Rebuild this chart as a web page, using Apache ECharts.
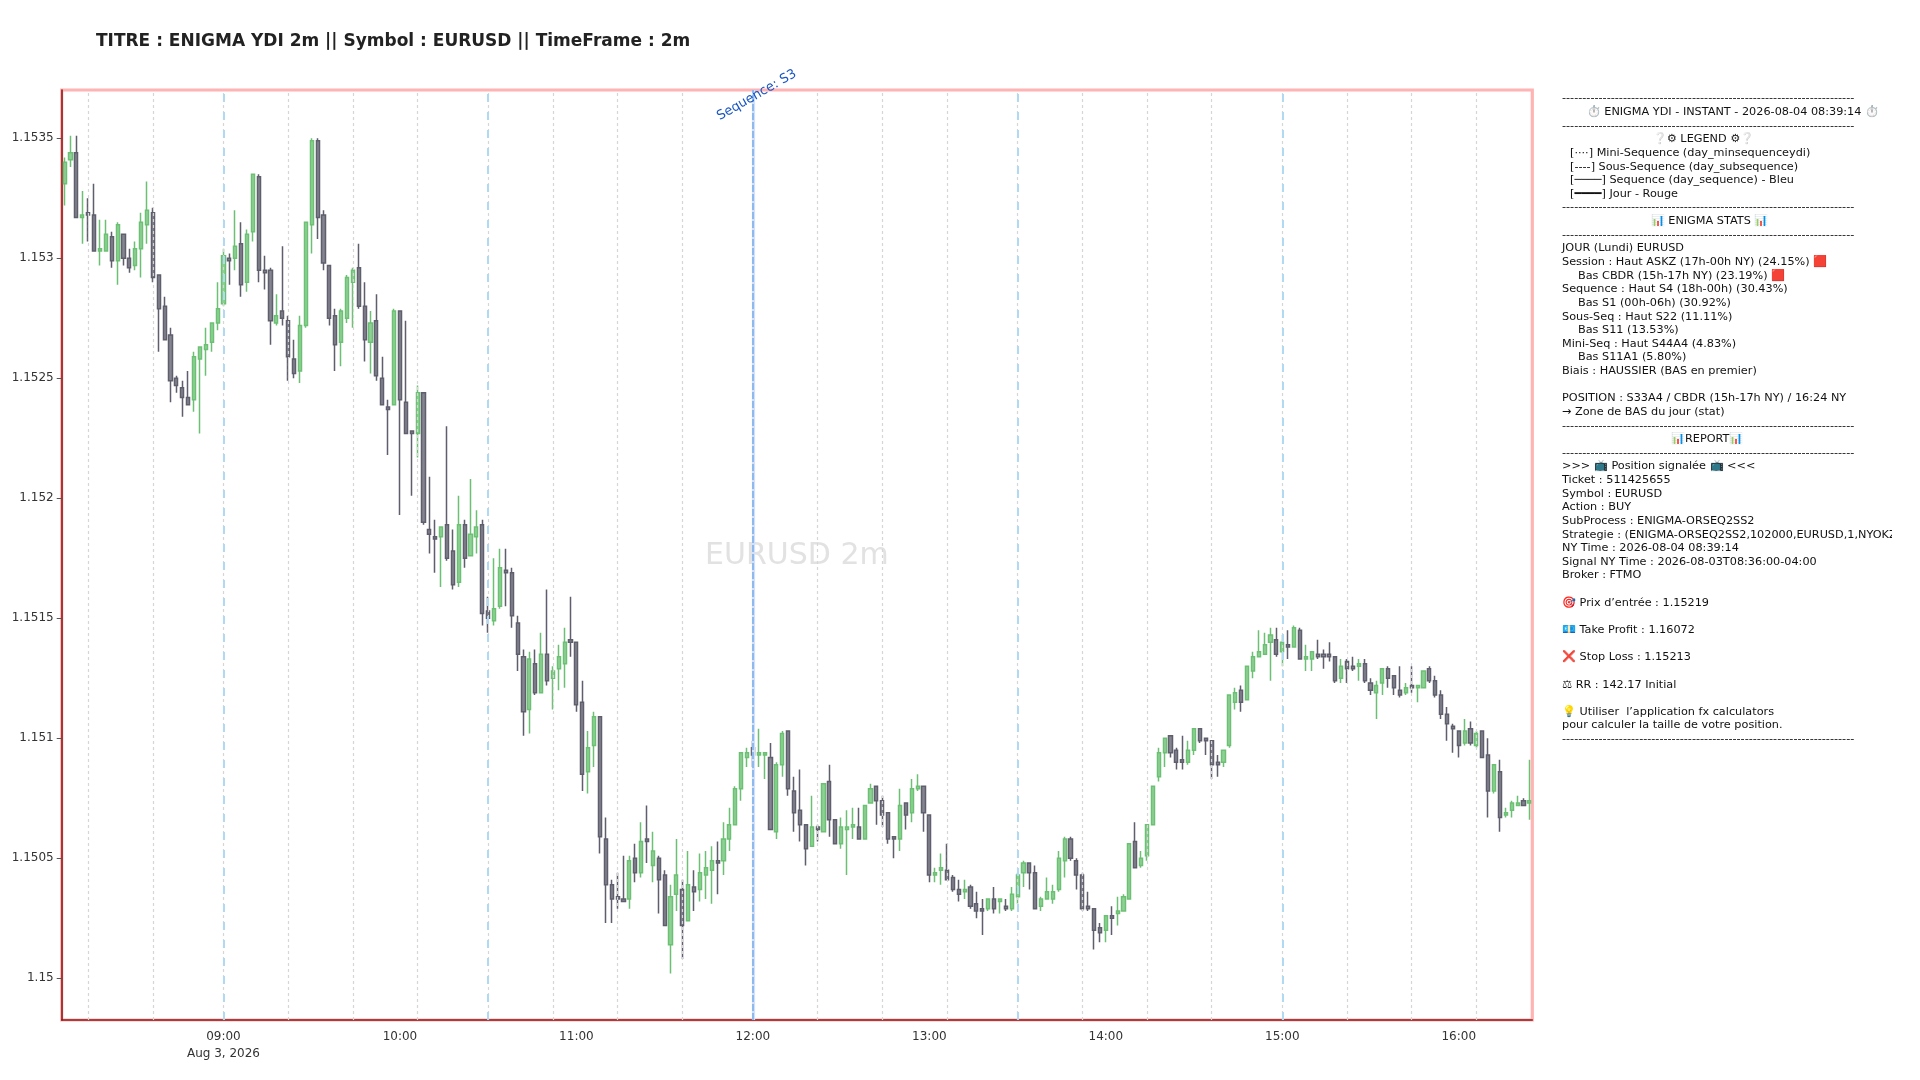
<!DOCTYPE html>
<html><head><meta charset="utf-8">
<style>html,body{margin:0;padding:0;background:#fff;overflow:hidden}#c{width:1892px;height:1080px}</style>
<script src="https://cdn.jsdelivr.net/npm/echarts@6/dist/echarts.min.js"></script>
</head><body><div id="c"></div>
<script>
const titleText = "TITRE : ENIGMA YDI 2m || Symbol : EURUSD || TimeFrame : 2m";
const watermarkText = "EURUSD 2m";
const priceBase = 1.15, pointSize = 0.00001;
const categories = ["08:06","08:08","08:10","08:12","08:14","08:16","08:18","08:20","08:22","08:24","08:26","08:28","08:30","08:32","08:34","08:36","08:38","08:40","08:42","08:44","08:46","08:48","08:50","08:52","08:54","08:56","08:58","09:00","09:02","09:04","09:06","09:08","09:10","09:12","09:14","09:16","09:18","09:20","09:22","09:24","09:26","09:28","09:30","09:32","09:34","09:36","09:38","09:40","09:42","09:44","09:46","09:48","09:50","09:52","09:54","09:56","09:58","10:00","10:02","10:04","10:06","10:08","10:10","10:12","10:14","10:16","10:18","10:20","10:22","10:24","10:26","10:28","10:30","10:32","10:34","10:36","10:38","10:40","10:42","10:44","10:46","10:48","10:50","10:52","10:54","10:56","10:58","11:00","11:02","11:04","11:06","11:08","11:10","11:12","11:14","11:16","11:18","11:20","11:22","11:24","11:26","11:28","11:30","11:32","11:34","11:36","11:38","11:40","11:42","11:44","11:46","11:48","11:50","11:52","11:54","11:56","11:58","12:00","12:02","12:04","12:06","12:08","12:10","12:12","12:14","12:16","12:18","12:20","12:22","12:24","12:26","12:28","12:30","12:32","12:34","12:36","12:38","12:40","12:42","12:44","12:46","12:48","12:50","12:52","12:54","12:56","12:58","13:00","13:02","13:04","13:06","13:08","13:10","13:12","13:14","13:16","13:18","13:20","13:22","13:24","13:26","13:28","13:30","13:32","13:34","13:36","13:38","13:40","13:42","13:44","13:46","13:48","13:50","13:52","13:54","13:56","13:58","14:00","14:02","14:04","14:06","14:08","14:10","14:12","14:14","14:16","14:18","14:20","14:22","14:24","14:26","14:28","14:30","14:32","14:34","14:36","14:38","14:40","14:42","14:44","14:46","14:48","14:50","14:52","14:54","14:56","14:58","15:00","15:02","15:04","15:06","15:08","15:10","15:12","15:14","15:16","15:18","15:20","15:22","15:24","15:26","15:28","15:30","15:32","15:34","15:36","15:38","15:40","15:42","15:44","15:46","15:48","15:50","15:52","15:54","15:56","15:58","16:00","16:02","16:04","16:06","16:08","16:10","16:12","16:14","16:16","16:18","16:20","16:22","16:24"];
const opens = [331,341,344,317,319,318,303,303,309,299,310,300,297,304,314,319,293,280,268,250,246,242,241,258,262,265,273,281,300,300,306,290,311,334,295,295,273,278,274,258,253,272,314,349,318,297,276,265,275,290,296,280,265,274,250,238,239,278,240,228,227,244,187,184,184,189,178,165,189,176,184,189,153,149,155,170,169,148,134,112,131,119,135,125,129,131,141,140,115,86,97,109,58,39,34,33,33,50,44,58,47,50,43,14,35,37,24,38,37,43,45,49,49,58,64,79,92,96,93,93,92,61,89,103,78,70,64,55,63,61,82,66,56,62,63,63,58,73,80,74,69,59,58,73,69,79,80,68,43,45,45,42,37,36,38,31,29,29,33,32,30,29,34,44,48,44,30,33,33,37,49,58,49,43,30,29,21,20,26,27,28,33,57,47,51,64,84,94,101,95,91,90,95,104,100,99,90,90,97,115,120,116,128,134,135,140,141,136,139,138,145,133,133,135,135,135,134,125,132,130,130,131,123,119,123,129,126,120,119,122,121,121,129,124,118,110,105,103,98,104,97,103,93,78,86,68,70,72,74,73];
const closes = [340,344,317,318,318,303,304,310,299,314,300,296,304,315,320,292,279,266,249,247,242,239,259,263,264,273,279,301,299,305,289,310,335,295,294,274,276,275,259,252,272,315,349,317,298,275,264,278,292,295,280,266,273,251,239,237,278,241,227,227,244,190,185,183,188,175,164,189,175,185,188,152,150,154,171,169,151,135,111,133,119,135,124,128,134,140,140,114,85,96,109,59,39,33,33,32,49,44,57,57,53,41,22,34,43,22,39,36,44,46,49,48,58,64,79,94,94,93,94,94,62,89,102,79,69,64,54,63,62,81,66,56,63,63,64,58,72,79,74,68,58,58,72,68,79,80,69,43,44,46,41,37,35,37,30,28,28,33,29,33,29,35,43,48,44,29,33,36,36,50,58,50,43,29,29,20,19,26,25,28,34,56,46,50,64,80,94,100,94,90,90,95,104,99,99,89,89,95,118,119,115,130,134,136,139,143,135,140,138,146,133,134,136,134,134,134,124,130,129,129,131,124,120,122,129,125,121,118,121,121,122,128,124,118,110,106,104,97,103,98,102,92,78,89,67,69,73,73,72,74];
const lows = [322,338,317,306,307,303,297,303,296,289,297,294,295,292,306,290,261,266,240,244,234,239,236,227,251,261,270,280,289,295,284,286,307,290,287,264,272,272,249,250,248,271,302,308,295,272,253,255,273,271,279,257,252,249,239,218,239,193,227,201,217,189,177,169,163,174,162,163,171,176,177,147,144,147,154,155,146,128,101,102,118,119,122,112,120,121,134,111,78,77,88,52,23,23,29,32,29,40,42,48,40,27,22,2,28,8,24,28,32,33,31,35,43,53,64,74,88,88,88,83,62,58,84,76,61,57,47,55,57,61,59,56,54,43,58,58,58,73,64,63,56,50,53,62,65,78,61,40,40,39,41,36,32,33,29,25,18,28,27,27,28,28,31,38,37,29,28,33,31,36,42,49,37,28,28,12,15,15,18,22,28,33,46,46,49,64,82,88,92,87,87,89,93,98,93,83,84,88,96,112,111,116,125,134,135,124,134,130,133,138,133,128,128,133,129,132,123,123,123,128,124,123,118,108,118,121,118,117,118,119,115,121,123,117,108,99,94,92,97,97,96,92,67,77,61,67,67,72,72,66];
const highs = [342,351,351,328,325,331,316,316,311,315,310,304,307,319,332,321,293,284,271,251,249,253,261,263,271,273,290,304,302,320,315,312,335,335,301,296,285,305,276,266,276,315,350,350,320,297,279,279,293,296,306,290,278,285,259,241,279,278,274,228,247,244,209,191,188,230,187,201,191,208,195,191,159,175,179,179,171,151,137,136,137,144,162,130,139,146,159,140,124,103,111,109,67,41,44,51,51,56,65,72,61,51,45,39,58,41,53,45,52,53,55,57,65,71,80,94,96,99,104,94,98,90,103,103,84,87,64,76,64,81,89,66,67,70,71,71,72,81,80,76,69,59,79,73,83,85,80,68,46,52,56,43,41,41,39,36,33,33,38,33,33,38,44,49,48,47,34,42,39,53,59,59,50,44,36,29,23,26,30,34,35,56,65,53,64,80,96,100,101,96,101,99,104,104,100,99,93,95,118,121,122,130,136,145,144,146,146,143,145,147,146,139,136,141,137,140,134,133,133,134,133,133,125,124,129,130,126,130,123,130,122,128,130,126,120,113,106,103,108,107,103,103,100,89,91,71,74,76,75,91];
const yTickValues = [1.15, 1.1505, 1.151, 1.1515, 1.152, 1.1525, 1.153, 1.1535];
const miniSeqTimes = ["08:14","08:36","09:00","09:22","09:44","10:06","10:30","10:52","11:14","11:36","12:00","12:22","12:44","13:06","13:30","13:52","14:14","14:36","15:00","15:22","15:44","16:06"];
const subSeqTimes = ["09:00","10:30","13:30","15:00"];
const seqTimes = ["12:00"];
const seqLabel = "Sequence: S3";
const dashRule = "-".repeat(72);
const panelRows = [
 dashRule,
 "⏱️ ENIGMA YDI - INSTANT - 2026-08-04 08:39:14 ⏱️",
 dashRule,
 "❔⚙ LEGEND ⚙❔",
 "[····] Mini-Sequence (day_minsequenceydi)",
 "[----] Sous-Sequence (day_subsequence)",
 "[────] Sequence (day_sequence) - Bleu",
 "[━━━━] Jour - Rouge",
 dashRule,
 "📊 ENIGMA STATS 📊",
 dashRule,
 "JOUR (Lundi) EURUSD",
 "Session : Haut ASKZ (17h-00h NY) (24.15%) 🟥",
 "Bas CBDR (15h-17h NY) (23.19%) 🟥",
 "Sequence : Haut S4 (18h-00h) (30.43%)",
 "Bas S1 (00h-06h) (30.92%)",
 "Sous-Seq : Haut S22 (11.11%)",
 "Bas S11 (13.53%)",
 "Mini-Seq : Haut S44A4 (4.83%)",
 "Bas S11A1 (5.80%)",
 "Biais : HAUSSIER (BAS en premier)",
 "",
 "POSITION : S33A4 / CBDR (15h-17h NY) / 16:24 NY",
 "→ Zone de BAS du jour (stat)",
 dashRule,
 "📊REPORT📊",
 dashRule,
 ">>> 📺 Position signalée 📺 <<<",
 "Ticket : 511425655",
 "Symbol : EURUSD",
 "Action : BUY",
 "SubProcess : ENIGMA-ORSEQ2SS2",
 "Strategie : (ENIGMA-ORSEQ2SS2,102000,EURUSD,1,NYOKZ,SL)",
 "NY Time : 2026-08-04 08:39:14",
 "Signal NY Time : 2026-08-03T08:36:00-04:00",
 "Broker : FTMO",
 "",
 "🎯 Prix d’entrée : 1.15219",
 "",
 "💶 Take Profit : 1.16072",
 "",
 "❌ Stop Loss : 1.15213",
 "",
 "⚖ RR : 142.17 Initial",
 "",
 "💡 Utiliser  l’application fx calculators",
 "pour calculer la taille de votre position.",
 dashRule
];
const panelLeft = 1562;
const panelRowStart = 97.3, panelRowStep = 13.63;
const panelIndents = {1:24.7, 3:90.7, 4:8, 5:8, 6:8, 7:8, 9:88.7, 13:16, 15:16, 17:16, 19:16, 25:109};

const price = p => +(priceBase + p * pointSize).toFixed(5);
const candleData = categories.map((_, i) => [price(opens[i]), price(closes[i]), price(lows[i]), price(highs[i])]);
const mini = miniSeqTimes.map(t => ({xAxis: t, lineStyle: {color: '#d6d6d6', width: 1.2, type: [3, 3]}}));
const sub = subSeqTimes.map(t => ({xAxis: t, lineStyle: {color: '#b2d9f2', width: 2, type: [8, 10]}}));
const seqBand = seqTimes.map(t => ({xAxis: t, lineStyle: {color: '#d3e0f9', width: 3.2, type: 'solid'}}));
const seq = seqTimes.map(t => ({xAxis: t, lineStyle: {color: '#86b5ec', width: 1.8, type: [7, 2]},
  label: {show: true, formatter: seqLabel, position: 'end', rotate: 30, distance: 0, align: 'center', verticalAlign: 'middle', offset: [0.8, 6.4],
          color: '#1a56c4', fontSize: 13, fontFamily: 'DejaVu Sans'}}));

const panelText = panelRows.map((t, i) => t ? ({
  type: 'text', left: panelLeft + (panelIndents[i] || 0), top: panelRowStart + i * panelRowStep - 4.3, z: 10,
  style: {text: t, font: '11.25px "DejaVu Sans"', fill: '#111'}
}) : null).filter(Boolean);

const chart = echarts.init(document.getElementById('c'), null, {renderer: 'canvas'});
chart.setOption({
  animation: false,
  backgroundColor: '#fff',
  textStyle: {fontFamily: 'DejaVu Sans'},
  title: {text: titleText, left: 91, top: 28, textStyle: {fontFamily: 'DejaVu Sans', fontWeight: 'bold', fontSize: 17, color: '#222'}},
  grid: {left: 61.7, top: 90, width: 1470.6, height: 930, show: true, backgroundColor: '#fff', borderColor: '#ffb3b3', borderWidth: 3.2},
  xAxis: {
    type: 'category', data: categories, boundaryGap: true,
    axisLine: {lineStyle: {color: '#8b1a1a', width: 1.6}},
    axisTick: {alignWithLabel: true, length: 5, interval: (i, v) => v.endsWith(':00'), lineStyle: {color: '#555'}},
    axisLabel: {interval: (i, v) => v.endsWith(':00'), margin: 8.5, fontSize: 12, color: '#333', lineHeight: 17,
      formatter: v => v === '09:00' ? '09:00\nAug 3, 2026' : v},
    splitLine: {show: false}
  },
  yAxis: {
    type: 'value', scale: true, min: 1.149826, max: 1.153701,
    axisLine: {show: true, lineStyle: {color: '#8b1a1a', width: 1.6}},
    axisTick: {show: true, length: 5, customValues: yTickValues, lineStyle: {color: '#555'}},
    axisLabel: {customValues: yTickValues, margin: 8, fontSize: 12, color: '#333', formatter: v => String(v), showMinLabel: true, showMaxLabel: true},
    splitLine: {show: false}
  },
  graphic: [{type: 'text', z: 1, left: 705, top: 541,
      style: {text: watermarkText, font: '30px "DejaVu Sans"', fill: '#e2e2e2'}}, ...panelText],
  series: [{
    type: 'candlestick', data: candleData, barWidth: 3.6, z: 2,
    itemStyle: {color: '#8fd095', color0: '#85858f', borderColor: '#6cc073', borderColor0: '#5e5e6c', borderWidth: 1.5},
    markLine: {silent: true, symbol: 'none', animation: false, z: 5, label: {show: false},
      data: [...mini, ...sub, ...seqBand, ...seq]}
  }]
});
</script></body></html>
